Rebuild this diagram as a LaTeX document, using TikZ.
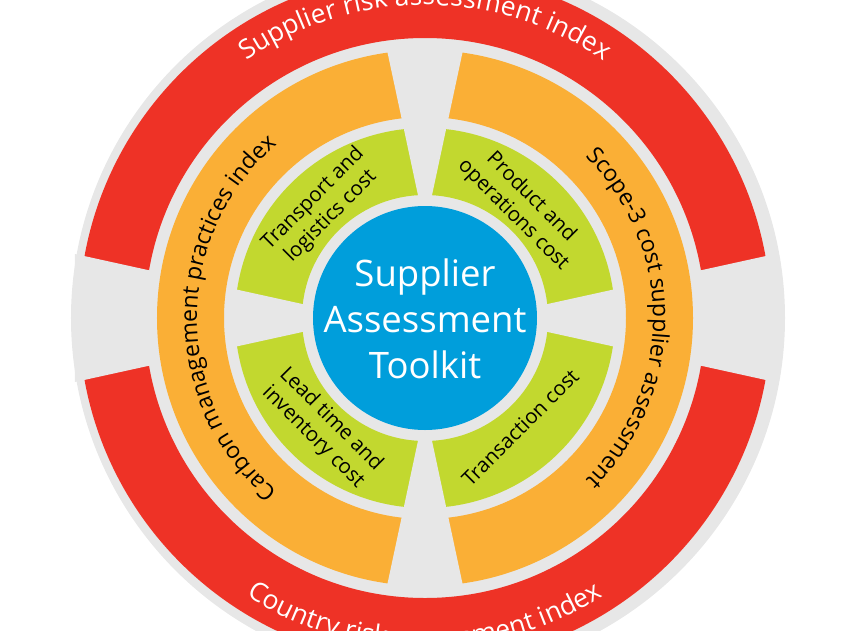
\documentclass[tikz,border=0pt]{standalone}
\usepackage{fontspec}
\setmainfont{Open Sans}
\usetikzlibrary{decorations.text}
\definecolor{rbg}{HTML}{E7E7E7}
\definecolor{rred}{HTML}{EE3226}
\definecolor{rorange}{HTML}{FAAF36}
\definecolor{rgreen}{HTML}{C2D82F}
\definecolor{rblue}{HTML}{009EDB}
\begin{document}
\begin{tikzpicture}[x=1pt,y=1pt,
  greentext/.style={text=black, align=center, font=\fontsize{20.5}{25}\selectfont, inner sep=0pt},
  centertext/.style={text=white, align=center, font=\fontsize{36.5}{46}\selectfont, inner sep=0pt},
  hwedge/.style={fill=rbg},
]
\useasboundingbox (-425,-312) rectangle (425,318);
\clip (-425,-312) rectangle (425,318);
% background disk
\fill[rbg] (3,0) circle[radius=357];
% red ring with side gaps
\fill[rred, even odd rule] (0,0) circle[radius=346] (0,0) circle[radius=280];
\fill[hwedge] (59,0) -- (350,64) -- (350,-64) -- cycle;
\fill[hwedge] (-59,0) -- (-350,64) -- (-350,-64) -- cycle;
% orange and green rings
\fill[rorange, even odd rule] (0,0) circle[radius=268] (0,0) circle[radius=201];
\fill[rgreen, even odd rule] (0,0) circle[radius=190] (0,0) circle[radius=123];
% vertical gaps (orange + green)
\begin{scope}
  \clip (0,0) circle[radius=274];
  \fill[hwedge] (0,90) -- (-47,310) -- (47,310) -- cycle;
  \fill[hwedge] (0,-90) -- (-47,-310) -- (47,-310) -- cycle;
\end{scope}
% horizontal gaps (green)
\begin{scope}
  \clip (0,0) circle[radius=196];
  \fill[hwedge] (59,0) -- (350,64) -- (350,-64) -- cycle;
  \fill[hwedge] (-59,0) -- (-350,64) -- (-350,-64) -- cycle;
\end{scope}
% center
\fill[rblue] (0,0) circle[radius=112];
\node[centertext] (core) at (0,-1) {Supplier\\Assessment\\Toolkit};
% curved labels
\path[decorate, decoration={text along path, text align=center,
  text={|\fontsize{26.5}{26.5}\selectfont\color{white}|Supplier risk assessment index}}]
  (180:313) arc[start angle=180, end angle=0, radius=313];
\path[decorate, decoration={text along path, text align=center,
  text={|\fontsize{26.5}{26.5}\selectfont\color{white}|Country risk assessment index}}]
  (180:330) arc[start angle=180, end angle=360, radius=330];
\path[decorate, decoration={text along path, text align=center,
  text={|\fontsize{23}{23}\selectfont\color{black}|Carbon management practices index}}]
  (270:228) arc[start angle=270, end angle=90, radius=228];
\path[decorate, decoration={text along path, text align=center,
  text={|\fontsize{23}{23}\selectfont\color{black}|Scope-3 cost supplier assessment}}]
  (90:228) arc[start angle=90, end angle=-90, radius=228];
% green labels
\node[greentext, rotate=45] (tl) at (133:151) {Transport and\\logistics cost};
\node[greentext, rotate=-45] (tr) at (49:148) {Product and\\operations cost};
\node[greentext, rotate=-45] (bl) at (227:151) {Lead time and\\inventory cost};
\node[greentext, rotate=45] (br) at (311:145) {Transaction cost};
\end{tikzpicture}
\end{document}
